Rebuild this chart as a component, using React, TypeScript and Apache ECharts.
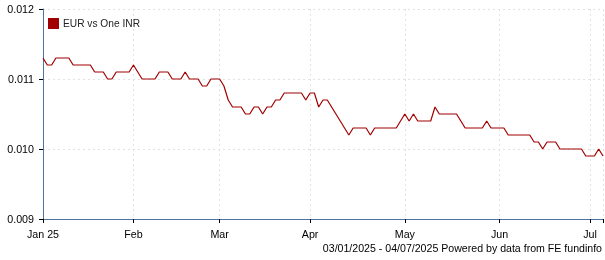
import React, { useEffect, useRef } from "react";
import * as echarts from "echarts";

const START_DATE = "2025-01-03";
const END_DATE = "2025-07-04";
const SERIES_NAME = "EUR vs One INR";
const FOOTER = "03/01/2025 - 04/07/2025 Powered by data from FE fundinfo";
const MONTHS = ["Jan", "Feb", "Mar", "Apr", "May", "Jun", "Jul", "Aug", "Sep", "Oct", "Nov", "Dec"];
const Y_TICKS = [0.009, 0.01, 0.011, 0.012];

const values = [
  0.0113, 0.0112, 0.0112, 0.0113, 0.0113, 0.0113, 0.0113, 0.0112, 0.0112, 0.0112,
  0.0112, 0.0112, 0.0111, 0.0111, 0.0111, 0.011, 0.011, 0.0111, 0.0111, 0.0111,
  0.0111, 0.0112, 0.0111, 0.011, 0.011, 0.011, 0.011, 0.0111, 0.0111, 0.0111,
  0.011, 0.011, 0.011, 0.0111, 0.011, 0.011, 0.011, 0.0109, 0.0109, 0.011,
  0.011, 0.011, 0.0109, 0.0107, 0.0106, 0.0106, 0.0106, 0.0105, 0.0105, 0.0106,
  0.0106, 0.0105, 0.0106, 0.0106, 0.0107, 0.0107, 0.0108, 0.0108, 0.0108, 0.0108,
  0.0108, 0.0107, 0.0108, 0.0108, 0.0106, 0.0107, 0.0107, 0.0106, 0.0105, 0.0104,
  0.0103, 0.0102, 0.0103, 0.0103, 0.0103, 0.0103, 0.0102, 0.0103, 0.0103, 0.0103,
  0.0103, 0.0103, 0.0103, 0.0104, 0.0105, 0.0104, 0.0105, 0.0104, 0.0104, 0.0104,
  0.0104, 0.0106, 0.0105, 0.0105, 0.0105, 0.0105, 0.0105, 0.0104, 0.0103, 0.0103,
  0.0103, 0.0103, 0.0103, 0.0104, 0.0103, 0.0103, 0.0103, 0.0103, 0.0102, 0.0102,
  0.0102, 0.0102, 0.0102, 0.0102, 0.0101, 0.0101, 0.01, 0.0101, 0.0101, 0.0101,
  0.01, 0.01, 0.01, 0.01, 0.01, 0.01, 0.0099, 0.0099, 0.0099, 0.01,
  0.0099,
];

function weekdays(start: string, end: string): Date[] {
  const out: Date[] = [];
  const d = new Date(start + "T00:00:00Z");
  const e = new Date(end + "T00:00:00Z");
  while (d.getTime() <= e.getTime()) {
    const w = d.getUTCDay();
    if (w !== 0 && w !== 6) out.push(new Date(d.getTime()));
    d.setUTCDate(d.getUTCDate() + 1);
  }
  return out;
}

const dates = weekdays(START_DATE, END_DATE);
const categories = dates.map((d) => d.toISOString().slice(0, 10));

const isMonthStart = (i: number) =>
  i === 0 || dates[i].getUTCMonth() !== dates[i - 1].getUTCMonth();
const isTick = (i: number) => isMonthStart(i) || i === dates.length - 1;

const FONT = "Liberation Sans, Arial, sans-serif";
const AXIS_COLOR = "#4d73a0";
const LINE_COLOR = "#a00000";

export default function App() {
  const ref = useRef<HTMLDivElement>(null);
  useEffect(() => {
    if (!ref.current) return;
    const chart = echarts.init(ref.current, null, { renderer: "svg" });
    chart.setOption({
      animation: false,
      grid: { left: 43, right: 2, top: 9, bottom: 41 },
      legend: {
        left: 43,
        top: 13,
        icon: "rect",
        itemWidth: 11,
        itemHeight: 11,
        itemGap: 4,
        textStyle: { fontFamily: FONT, fontSize: 10.2, color: "#222", padding: [0, 0, 0, -1] },
        data: [SERIES_NAME],
      },
      xAxis: {
        type: "category",
        data: categories,
        boundaryGap: false,
        axisLine: { lineStyle: { color: AXIS_COLOR, width: 1 } },
        axisTick: {
          show: true,
          length: 4,
          interval: (i: number) => isTick(i),
          lineStyle: { color: "#000" },
        },
        axisLabel: {
          interval: (i: number) => isMonthStart(i),
          fontFamily: FONT,
          fontSize: 10.7,
          color: "#000",
          margin: 9,
          formatter: (_v: string, i: number) =>
            i === 0 ? "Jan 25" : MONTHS[dates[i].getUTCMonth()],
        },
        splitLine: {
          show: true,
          interval: (i: number) => isTick(i),
          lineStyle: { color: "#e2e2e2", type: [2, 3] },
        },
      },
      yAxis: {
        type: "value",
        min: Y_TICKS[0],
        max: Y_TICKS[Y_TICKS.length - 1],
        interval: 0.001,
        axisLine: { show: true, lineStyle: { color: AXIS_COLOR, width: 1 } },
        axisTick: { show: true, length: 4, lineStyle: { color: "#000" } },
        axisLabel: {
          fontFamily: FONT,
          fontSize: 10.7,
          color: "#000",
          margin: 9,
          formatter: (v: number) => v.toFixed(3),
        },
        splitLine: { show: true, lineStyle: { color: "#e2e2e2", type: [2, 3] } },
      },
      series: [
        {
          name: SERIES_NAME,
          type: "line",
          data: values,
          showSymbol: false,
          symbol: "none",
          itemStyle: { color: LINE_COLOR },
          lineStyle: { color: LINE_COLOR, width: 1.2 },
        },
      ],
      graphic: [
        {
          type: "text",
          right: 3,
          top: 242,
          style: {
            text: FOOTER,
            font: "10.6px " + FONT,
            fill: "#000",
          },
        },
      ],
    });
    return () => chart.dispose();
  }, []);
  return (
    <div
      ref={ref}
      style={{ position: "fixed", left: 0, top: 0, width: 605, height: 260 }}
    />
  );
}
